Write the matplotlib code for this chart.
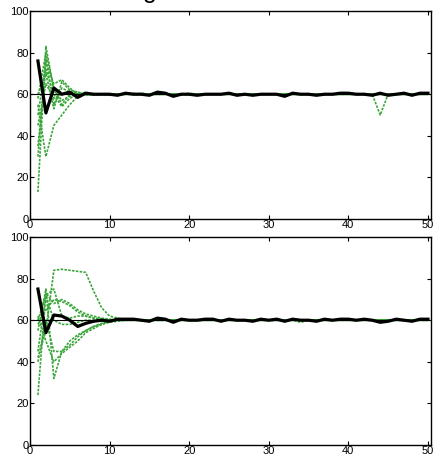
import numpy as np
import matplotlib.pyplot as plt

# iteration index
x = np.arange(1, 51)

# top panel: individual runs (green dotted) and their mean (black)
top_runs = [
    [13, 83, 62, 57, 59, 60, 60.5, 60, 60, 60, 59.5, 60, 60.5, 60, 60, 60, 60, 60, 60, 60.5,
     60, 60, 60, 60, 60, 60, 60, 60, 60, 60, 60, 60, 60, 60, 60, 60, 60, 60, 60, 60,
     60, 60, 60, 60, 60, 60, 60, 60, 60, 60],
    [30, 77, 55, 63, 61, 59, 60, 60, 60, 59.5, 60, 60, 60, 60.5, 60, 60, 60, 60, 60, 60,
     60, 60, 60, 60, 60.5, 60, 60, 60, 60, 60, 60, 60, 60, 60, 60, 60, 60, 60, 60, 60,
     60, 60, 60, 60, 60, 60, 60, 60, 60, 60],
    [55, 30, 45, 50, 55, 59, 60, 60, 60, 60, 60, 60, 60, 60, 60, 60, 60, 60, 60, 60,
     60, 60, 60, 60, 60, 60, 60, 60, 60, 60, 60, 60, 60, 60, 60, 60, 60, 60, 60, 60,
     60, 60, 60, 60, 60, 60, 60, 60, 60, 60],
    [60, 70, 53, 66, 62, 61, 59.5, 60, 60, 60, 60, 60.5, 60, 60, 60, 60, 60, 60, 60, 60,
     60, 60, 60, 60, 60, 60, 60, 60, 60, 60, 60, 60, 60, 60, 60, 60, 60, 60, 60, 60,
     60, 60, 60, 60, 60, 60, 60, 60, 60, 60],
    [50, 75, 65, 67, 63, 60, 61, 60, 60, 60, 60, 60, 60, 60, 60, 60, 60, 60, 60, 60,
     60, 60, 60, 60, 60, 60, 60, 60, 60, 60, 60, 60, 60, 60, 60, 60, 60, 60, 60, 60,
     60, 60, 60, 60, 60, 60, 60, 60, 60, 60],
    [35, 72, 60, 54, 58, 60, 60, 59.5, 60, 60, 60, 60, 60, 60, 60, 60, 60, 60, 60, 60,
     60, 60, 60, 60, 60, 60, 60, 60, 60, 60, 60, 60, 60, 60, 60, 60, 60, 60, 60, 60,
     60, 60, 60, 60, 60, 60, 60, 60, 60, 60],
    [58, 80, 63, 55, 60, 61, 60, 60, 60, 60, 60, 60, 60, 60, 60, 60, 60, 60, 60, 60,
     60, 60, 60, 60, 60, 60, 60, 60, 60, 60, 60, 60, 60, 60, 60, 60, 60, 60, 60, 60,
     60, 60, 60, 60, 60, 60, 60, 60, 60, 60],
    [45, 65, 58, 60, 61, 60, 60, 60, 60, 60, 60, 60, 60, 60, 60, 60, 60, 60, 60, 60,
     60, 60, 60, 60, 60, 60, 60, 60, 60, 60, 60, 60, 60, 60, 60, 60, 60, 60, 60, 60,
     60, 60, 60, 50, 60, 60, 60, 60, 60, 60],
]
top_mean = [76, 51, 63, 60, 61, 58.5, 60.5, 60, 60, 60, 59.5, 60.5, 60, 60, 59.5, 61, 60.5, 59, 60, 60,
            59.5, 60, 60, 60, 60.5, 59.5, 60, 59.5, 60, 60, 60, 59, 60.5, 60, 60, 59.5, 60, 60, 60.5, 60.5,
            60, 60, 59.5, 60.5, 59.5, 60, 60.5, 59.5, 60.5, 60.5]

# bottom panel
bot_runs = [
    [24, 73, 68, 70, 68, 65, 63, 62, 61, 60.5, 60, 60, 60, 60, 60, 60, 60, 60, 60, 60,
     60, 60, 60, 60, 60, 60, 60, 60, 60, 60, 60, 60, 60, 60, 60, 60, 60, 60, 60, 60,
     60, 60, 60, 60, 60, 60, 60, 60, 60, 60],
    [42, 55, 84, 84.5, 84, 83.5, 83, 74, 66, 62, 61, 60, 60, 60, 60, 60, 60, 60, 60, 60,
     60, 60, 60, 60, 60, 60, 60, 60, 60, 60, 60, 60, 60, 60, 60, 60, 60, 60, 60, 60,
     60, 60, 60, 60, 60, 60, 60, 60, 60, 60],
    [55, 75, 32, 45, 50, 53, 55, 57, 58, 59, 59.5, 60, 60, 60, 60, 60, 60, 60, 60, 60,
     60, 60, 60, 60, 60, 60, 60, 60, 60, 60, 60, 60, 60, 59, 60, 60, 60, 60, 60, 60,
     60, 60, 60, 60, 60, 60, 60, 60, 60, 60],
    [60, 72, 75, 62, 61, 62, 62, 61, 60.5, 60, 60, 60, 60, 60, 60, 60, 60, 60, 60, 60,
     60, 60, 60, 60, 60, 60, 60, 60, 60, 60, 60, 60, 60, 60, 60, 60, 60, 60, 60, 60,
     60, 60, 60, 60, 60, 60, 60, 60, 60, 60],
    [62, 50, 40, 44, 47, 50, 54, 56, 58, 59.5, 60, 60, 60, 60, 60, 60, 60, 60, 60, 60,
     60, 60, 60, 60, 60, 60, 60, 60, 60, 60, 60, 60, 60, 60, 60, 60, 60, 60, 60, 60,
     60, 60, 60, 60, 60, 60, 60, 60, 60, 60],
    [40, 60, 45, 45, 48, 52, 55, 57, 58.5, 59.5, 60, 60, 60, 60, 60, 60, 60, 60, 60, 60,
     60, 60, 60, 60, 60, 60, 60, 60, 60, 60, 60, 60, 60, 60, 60, 60, 60, 60, 60, 60,
     60, 60, 60, 60, 60, 60, 60, 60, 60, 60],
    [58, 65, 70, 69, 67, 64, 62, 61, 60.5, 60, 60, 60, 60, 60, 60, 60, 60, 60, 60, 60,
     60, 60, 60, 60, 60, 60, 60, 60, 60, 60, 60, 60, 60, 60, 60, 60, 60, 60, 60, 60,
     60, 60, 60, 60, 60, 60, 60, 60, 60, 60],
    [45, 72, 60, 58, 58, 59, 60, 60, 60, 60, 60, 60, 60, 60, 60, 60, 60, 60, 60, 60,
     60, 60, 60, 60, 60, 60, 60, 60, 60, 60, 60, 60, 60, 60, 60, 60, 60, 60, 60, 60,
     60, 60, 60, 60, 60, 60, 60, 60, 60, 60],
]
bot_mean = [75, 54, 62.5, 62, 60, 57, 58.5, 59.5, 60, 59.5, 60.5, 60.5, 60.5, 60, 59.5, 61, 60.5, 59, 60.5, 60,
            60, 60.5, 60.5, 59.5, 60.5, 60, 60, 59.5, 60.5, 60, 60.5, 59.5, 60.5, 60, 60, 59.5, 60.5, 60, 60.5, 60.5,
            60, 60.5, 60, 59, 59.5, 60.5, 60, 59.5, 60.5, 60.5]

target = 60
xticks = [0, 10, 20, 30, 40, 50]
yticks = [0, 20, 40, 60, 80, 100]

plt.rcParams['font.family'] = ['Liberation Sans', 'DejaVu Sans']

fig = plt.figure(figsize=(4.37, 4.57), dpi=100)
ax1 = fig.add_axes([0.0686, 0.5208, 0.918, 0.455])
ax2 = fig.add_axes([0.0686, 0.0263, 0.918, 0.455])

for ax, runs, mean in [(ax1, top_runs, top_mean), (ax2, bot_runs, bot_mean)]:
    for r in runs:
        ax.plot(x, r, linestyle=(0, (1.5, 0.8)), color='#3aa63a', lw=1.2)
    ax.axhline(target, color='k', lw=0.8)
    ax.plot(x, mean, color='k', lw=2.3)
    ax.set_xlim(0, 50.4)
    ax.set_ylim(0, 100)
    ax.set_xticks(xticks)
    ax.set_yticks(yticks)
    ax.tick_params(direction='in', length=3, width=0.8, top=True, right=True,
                   labelsize=8, pad=1)
    for s in ax.spines.values():
        s.set_linewidth(1.0)

# title fragment cut off at the top edge
fig.text(150 / 437, 1 + 2 / 457, 'g', fontsize=18, ha='center', va='baseline')

fig.savefig('out.png', dpi=100)
